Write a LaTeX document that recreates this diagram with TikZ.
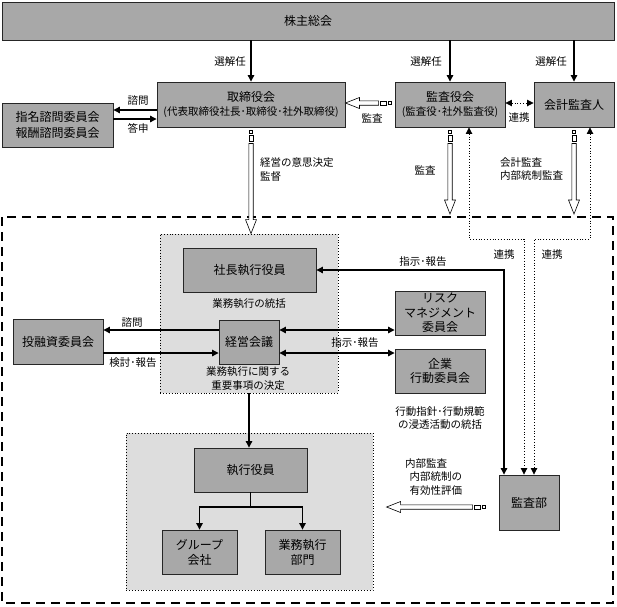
\documentclass[tikz,border=0pt]{standalone}
\usepackage{fontspec}
\setmainfont{Noto Sans CJK JP}
\usetikzlibrary{arrows.meta,decorations.markings}

\definecolor{boxgray}{HTML}{A8A8A8}
\definecolor{areagray}{HTML}{DDDDDD}

\tikzset{
    box/.style={draw=black!85, line width=0.9pt, fill=boxgray, align=center,
        inner sep=0pt, font=\fontsize{12}{15}\selectfont},
    lbl/.style={inner sep=0pt, align=center, font=\fontsize{10.5}{13.5}\selectfont},
    area/.style={draw, dotted, line width=0.9pt, fill=areagray, inner sep=0pt},
    arr/.style={line width=1.1pt, -{Triangle[length=6.5pt,width=6.5pt]}},
    twoarr/.style={line width=1.1pt, {Triangle[length=6.5pt,width=6.5pt]}-{Triangle[length=6.5pt,width=6.5pt]}},
    dotarr/.style={line width=0.8pt, dotted, {Triangle[length=6.5pt,width=6.5pt]}-{Triangle[length=6.5pt,width=6.5pt]}},
    hollow/.style={decorate, decoration={markings, mark=at position 0 with {
        \draw[line width=0.6pt, fill=white] (3pt,-1.5pt) rectangle (6pt,1.5pt);
        \draw[line width=0.6pt, fill=white] (8pt,-2.2pt) rectangle (14pt,2.2pt);
        \draw[line width=0.6pt, fill=white] (16pt,-2.2pt)
            -- (\pgfdecoratedpathlength-14pt,-2.2pt) -- (\pgfdecoratedpathlength-14pt,-5.5pt)
            -- (\pgfdecoratedpathlength,0pt)
            -- (\pgfdecoratedpathlength-14pt,5.5pt) -- (\pgfdecoratedpathlength-14pt,2.2pt)
            -- (16pt,2.2pt) -- cycle;
    }}}
}

\begin{document}
\begin{tikzpicture}[x=1pt, y=-1pt]
    \useasboundingbox (0,0) rectangle (617,606);

    % 執行側の範囲(破線)
    \draw[line width=2.2pt, dash pattern=on 9pt off 6pt] (2,217) rectangle (613,603);

    % 株主総会
    \node[box, minimum width=612pt, minimum height=38pt] (soukai) at (308,21) {株主総会};

    % 取締役会・監査役会・会計監査人
    \node[box, minimum width=188pt, minimum height=45pt] (torishimari) at (251,104.5)
        {取締役会\\[-1pt]{\fontsize{10.5}{13}\selectfont (代表取締役社長･取締役･社外取締役)}};
    \node[box, minimum width=110pt, minimum height=45pt] (kansayaku) at (450,104.5)
        {監査役会\\[-1pt]{\fontsize{10.5}{13}\selectfont (監査役･社外監査役)}};
    \node[box, minimum width=80pt, minimum height=45pt] (kaikei) at (574,104.5) {会計監査人};
    \node[box, minimum width=111pt, minimum height=44pt, font=\fontsize{12}{16}\selectfont]
        (shimon) at (57.5,125) {指名諮問委員会\\報酬諮問委員会};

    % 選解任
    \foreach \n/\x in {torishimari/230, kansayaku/426, kaikei/551} {
        \draw[arr] (soukai.south -| \n.north) -- (\n.north);
        \node[lbl] (sen-\n) at (\x,62) {選解任};
    }

    % 諮問・答申
    \coordinate (y1) at (0,110);
    \coordinate (y2) at (0,119);
    \draw[arr] (torishimari.west |- y1) -- (shimon.east |- y1);
    \draw[arr] (shimon.east |- y2) -- (torishimari.west |- y2);
    \node[lbl] (l-shimon) at (138,101) {諮問};
    \node[lbl] (l-toushin) at (138,128) {答申};

    % 監査・連携(上段)
    \coordinate (y3) at (0,103);
    \path[hollow] (kansayaku.west |- y3) -- (torishimari.east |- y3);
    \node[lbl] (l-kansa1) at (372,118) {監査};
    \draw[dotarr] (kansayaku.east |- y3) -- (kaikei.west |- y3);
    \node[lbl] (l-renkei1) at (519,118) {連携};

    % 執行側の枠
    \node[area, minimum width=178pt, minimum height=159pt] (honbu) at (249,313.5) {};
    \node[area, minimum width=247pt, minimum height=157pt] (shikkoubu) at (249.5,511.5) {};

    % 社長執行役員・経営会議
    \node[box, minimum width=133pt, minimum height=44pt] (shacho) at (249.5,270) {社長執行役員};
    \node[lbl] (l-shacho) at (249,304) {業務執行の統括};
    \node[box, minimum width=60pt, minimum height=44pt] (keiei) at (249,342) {経営会議};
    \node[lbl, font=\fontsize{10.5}{14}\selectfont] (l-keiei) at (248,379) {業務執行に関する\\重要事項の決定};

    % 委員会
    \node[box, minimum width=90pt, minimum height=45pt] (touyuushi) at (58,341.5) {投融資委員会};
    \node[box, minimum width=90pt, minimum height=44pt, font=\fontsize{12}{14.5}\selectfont]
        (risk) at (440,313) {リスク\\マネジメント\\委員会};
    \node[box, minimum width=90pt, minimum height=44pt, font=\fontsize{12}{14.5}\selectfont]
        (kigyou) at (440,371) {企業\\行動委員会};
    \node[lbl, font=\fontsize{10.5}{13}\selectfont] (l-kigyou) at (440,418) {行動指針･行動規範\\の浸透活動の統括};

    % 執行役員以下
    \node[box, minimum width=113pt, minimum height=44pt] (shikkou) at (250.5,470) {執行役員};
    \node[box, minimum width=75pt, minimum height=44pt] (group) at (199.5,552) {グループ\\会社};
    \node[box, minimum width=75pt, minimum height=44pt] (bumon) at (302.5,552) {業務執行\\部門};

    % 監査部
    \node[box, minimum width=60pt, minimum height=55pt] (kansabu) at (529,502.5) {監査部};

    % 経営の意思決定・監督、監査、会計監査
    \coordinate (tipy) at (0,214);
    \path[hollow] (torishimari.south) -- (torishimari.south |- honbu.north);
    \node[lbl, align=left, anchor=west] (l-kantoku) at (260,169.5) {経営の意思決定\\監督};
    \path[hollow] (kansayaku.south) -- (kansayaku.south |- tipy);
    \node[lbl] (l-kansa2) at (425,170) {監査};
    \path[hollow] (kaikei.south) -- (kaikei.south |- tipy);
    \node[lbl, align=left, anchor=west] (l-kaikei) at (500,169) {会計監査\\内部統制監査};

    % 連携(監査部へ)
    \coordinate (yc) at (0,239);
    \coordinate (kb1) at ([xshift=-25pt]kansabu.north);
    \coordinate (kb2) at ([xshift=-5pt]kansabu.north);
    \coordinate (kb3) at ([xshift=5pt]kansabu.north);
    \draw[dotarr] ([xshift=19pt]kansayaku.south) |- (kb2 |- yc) -- (kb2);
    \draw[dotarr] ([xshift=16pt]kaikei.south) |- (kb3 |- yc) -- (kb3);
    \node[lbl] (l-renkei2) at (504,255) {連携};
    \node[lbl] (l-renkei3) at (552,255) {連携};

    % 指示・報告(社長執行役員)
    \draw[twoarr] (shacho.east) -| (kb1);
    \node[lbl] (l-shiji1) at (423,262) {指示･報告};

    % 投融資委員会
    \coordinate (y4) at (0,330);
    \coordinate (y5) at (0,353);
    \draw[arr] (keiei.west |- y4) -- (touyuushi.east |- y4);
    \draw[arr] (touyuushi.east |- y5) -- (keiei.west |- y5);
    \node[lbl] (l-shimon2) at (132,323) {諮問};
    \node[lbl] (l-kentou) at (133,363) {検討･報告};

    % 指示・報告(委員会)
    \draw[twoarr] (keiei.east |- y4) -- (risk.west |- y4);
    \draw[twoarr] (keiei.east |- y5) -- (kigyou.west |- y5);
    \node[lbl] (l-shiji2) at (355,343) {指示･報告};

    % 経営会議の枠から執行役員、グループ会社・業務執行部門
    \coordinate (yb) at (0,507);
    \draw[arr] (honbu.south -| keiei.south) -- (keiei.south |- shikkou.north);
    \draw[arr] (shikkou.south) |- (group.north |- yb) -- (group.north);
    \draw[arr] (shikkou.south) |- (bumon.north |- yb) -- (bumon.north);

    % 内部監査
    \coordinate (ha) at ([xshift=-10pt,yshift=-4.5pt]kansabu.west);
    \path[hollow] (ha) -- ++(-102,0);
    \node[lbl, align=left, anchor=west, font=\fontsize{10.5}{13.5}\selectfont] (l-naibu) at (405,477)
        {内部監査\\\hspace*{4.5pt}内部統制の\\\hspace*{4.5pt}有効性評価};
\end{tikzpicture}
\end{document}
